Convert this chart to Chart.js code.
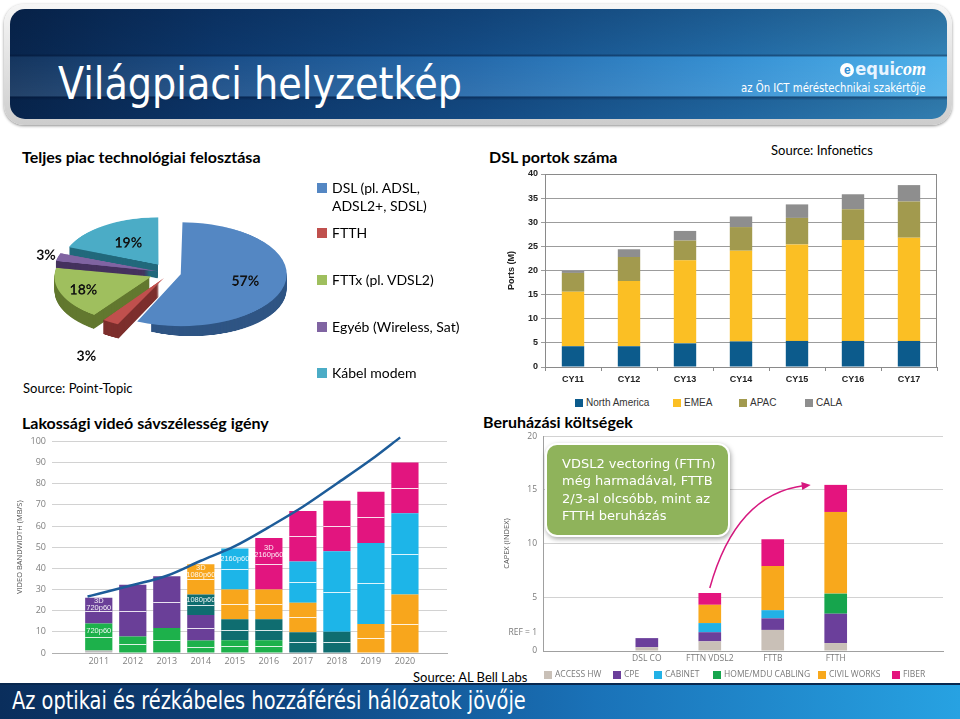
<!DOCTYPE html>
<html lang="hu">
<head>
<meta charset="utf-8">
<title>Világpiaci helyzetkép</title>
<script src="https://cdn.jsdelivr.net/npm/chart.js@4.4.1/dist/chart.umd.min.js"></script>
<style>
  html, body { margin: 0; padding: 0; background: #fff; }
  body { position: relative; width: 960px; height: 719px; overflow: hidden; font-family: Lato, 'Open Sans', sans-serif; color: #000; }
  .abs { position: absolute; white-space: nowrap; }
  canvas { position: absolute; }
  .narrow { font-family: 'Liberation Sans Narrow', 'DejaVu Sans Condensed', sans-serif; transform-origin: 0 50%; }
  #frame { left: 4px; top: 4px; width: 948px; height: 121px; border-radius: 20px; background: linear-gradient(#f6f6f6, #cdcdcd); box-shadow: 0 1px 3px rgba(0,0,0,.45); }
  #banner { left: 10px; top: 9px; width: 937px; height: 110px; border-radius: 15px; overflow: hidden;
    background:
      linear-gradient(180deg, rgba(0,15,45,.40) 0%, rgba(0,15,45,.28) 41%, rgba(0,15,45,.6) 42%, rgba(255,255,255,.04) 44%, rgba(255,255,255,.10) 79%, rgba(0,15,45,.6) 80%, rgba(0,15,45,.35) 83%, rgba(0,15,45,.3) 100%),
      linear-gradient(90deg, #0b2d58 0%, #114682 22%, #1c64a8 50%, #2f8dd2 78%, #47aee9 100%); }
  #title { left: 58px; top: 59px; font-size: 44px; line-height: 50px; color: #fff; transform: scaleX(0.965); }
  #logo { right: 34px; top: 58px; font-size: 18px; line-height: 22px; color: #fff; font-weight: bold; font-style: italic; font-family: 'Liberation Serif', serif; }
  #logo .e { display: inline-block; width: 14px; height: 14px; border-radius: 7px; background: #fff; color: #2f8dd2; font-size: 12px; line-height: 14px; text-align: center; font-style: normal; font-family: 'Liberation Sans', sans-serif; margin-right: 1px; vertical-align: 1px; }
  #logo .q { font-family: 'Liberation Sans Narrow', 'DejaVu Sans Condensed', sans-serif; font-style: normal; color: #e8f4ff; }
  #tagline { left: 741px; top: 80px; font-size: 12.5px; line-height: 16px; color: #fff; transform: scaleX(0.9); }
  .head { font-weight: bold; font-size: 16px; line-height: 20px; }
  .src { font-size: 13px; line-height: 16px; }
  .plg { position: absolute; font-size: 14px; line-height: 18px; white-space: pre; padding-left: 15px; }
  .plg i { position: absolute; left: 0; top: 4px; width: 10px; height: 10px; }
  .lg { position: absolute; white-space: nowrap; }
  .lg i { display: inline-block; vertical-align: middle; margin-right: 3px; }
  #callout { left: 547px; top: 445px; width: 166px; height: 80px; padding: 10px 0 0 15px; border-radius: 10px; background: #8fb35b; color: #fff;
    box-shadow: 0 0 0 2px #fff, 1px 2px 5px 2px rgba(0,0,0,.35); font-family: 'DejaVu Sans', sans-serif; font-size: 13px; line-height: 17.3px; }
  #footer { left: 0; top: 683px; width: 960px; height: 36px; border-top: 2px solid #08284f;
    background: linear-gradient(90deg, #0a2e5c 0%, #0f4580 30%, #1a72b8 62%, #27a2e2 100%); }
  #footerText { left: 12px; top: 684px; font-size: 25px; line-height: 34px; color: #fff; transform: scaleX(0.862); }
</style>
</head>
<body>
<div id="frame" class="abs"></div>
<div id="banner" class="abs"></div>
<div id="title" class="abs narrow">Világpiaci helyzetkép</div>
<div id="logo" class="abs"><span class="e">e</span><span class="q">equi</span>com</div>
<div id="tagline" class="abs narrow">az Ön ICT méréstechnikai szakértője</div>

<div class="abs head" style="left:22px;top:147px">Teljes piac technológiai felosztása</div>
<div class="abs head" style="left:489px;top:147px">DSL portok száma</div>
<div class="abs src" style="left:771px;top:142px">Source: Infonetics</div>
<div class="abs src" style="left:23px;top:380px">Source: Point-Topic</div>
<div class="abs head" style="left:22px;top:413px">Lakossági videó sávszélesség igény</div>
<div class="abs head" style="left:483px;top:412px">Beruházási költségek</div>
<div class="abs src" style="left:413px;top:669px">Source: AL Bell Labs</div>

<canvas id="pieChart"></canvas>
<canvas id="dslChart"></canvas>
<canvas id="videoChart"></canvas>
<canvas id="capexChart"></canvas>
<div id="pieLegend"></div>
<div id="dslLegend"></div>
<div id="capexLegend"></div>

<div id="callout" class="abs">VDSL2 vectoring (FTTn)<br>még harmadával, FTTB<br>2/3-al olcsóbb, mint az<br>FTTH beruházás</div>

<div id="footer" class="abs"></div>
<div id="footerText" class="abs narrow">Az optikai és rézkábeles hozzáférési hálózatok jövője</div>

<script>
// ---- adatok ----
const pieLabels = ['DSL (pl. ADSL,\nADSL2+, SDSL)', 'FTTH', 'FTTx (pl. VDSL2)', 'Egyéb (Wireless, Sat)', 'Kábel modem'];
const pieShares = [57, 3, 18, 3, 19];

const dslYears = ['CY11', 'CY12', 'CY13', 'CY14', 'CY15', 'CY16', 'CY17'];
const dslNorthAmerica = [4.3, 4.3, 4.9, 5.3, 5.4, 5.4, 5.4];
const dslEmea = [11.3, 13.5, 17.2, 18.8, 20.0, 20.9, 21.4];
const dslApac = [3.9, 5.0, 4.1, 4.9, 5.5, 6.4, 7.5];
const dslCala = [0.4, 1.6, 2.0, 2.2, 2.8, 3.1, 3.4];

const videoYears = ['2011', '2012', '2013', '2014', '2015', '2016', '2017', '2018', '2019', '2020'];
const videoSd = [1.2, 0, 0, 0, 0, 0, 0, 0, 0, 0];
const video720 = [12.8, 7.8, 11.8, 5.9, 6, 6, 0, 0, 0, 0];
const video3d720 = [12.1, 24.5, 24.5, 12, 0, 0, 0, 0, 0, 0];
const video1080 = [0, 0, 0, 9.7, 10, 10, 9.8, 10, 0, 0];
const video3d1080 = [0, 0, 0, 14.3, 14, 14, 14, 0, 13.7, 27.6];
const video2160 = [0, 0, 0, 0, 19.4, 0, 19.4, 38.1, 38.3, 38.4];
const video3d2160 = [0, 0, 0, 0, 0, 24.3, 23.9, 23.9, 24.2, 24];
// trend curve (x = year index)
const curveX = [-0.33, 0, 1, 2, 3, 4, 5, 6, 7, 8, 8.86];
const curveY = [26.7, 28.0, 32.1, 36.5, 43.6, 50.5, 59.5, 69.1, 80.1, 91.3, 101.9];

const capexCats = ['DSL CO', 'FTTN VDSL2', 'FTTB', 'FTTH'];
const capexAccessHw = [0.35, 0.9, 1.96, 0.74];
const capexCpe = [0.85, 0.85, 1.08, 2.73];
const capexCabinet = [0, 0.85, 0.76, 0];
const capexHomeCabling = [0, 0, 0, 1.87];
const capexCivilWorks = [0, 1.7, 4.1, 7.6];
const capexFiber = [0, 1.1, 2.5, 2.52];
const capexRefTick = 1.7;

// ---- stílus ----
const pieColors = ['#5487c3', '#c0504d', '#9fbf5e', '#8064a2', '#4bacc6'];
const pieSideColors = ['#2f5584', '#7d2f2d', '#62782f', '#45325e', '#22697c'];
const pieRatio = 0.49;

Chart.defaults.animation = false;
Chart.defaults.font.family = 'Open Sans';
Chart.defaults.plugins.legend.display = false;
Chart.defaults.plugins.tooltip.enabled = false;

// canvas + plot area -> padding / axis sizes
function setBox(id, box) {
  const c = document.getElementById(id);
  c.width = box.w; c.height = box.h;
  c.style.left = box.x + 'px'; c.style.top = box.y + 'px';
  return c;
}
function layoutFor(box, plot) {
  return {
    padding: { left: 0, bottom: 0, top: plot.top - box.y, right: box.x + box.w - plot.right },
    yWidth: plot.left - box.x,
    xHeight: box.y + box.h - plot.bottom
  };
}

// ---- torta ----
function arcShift(arc) {
  const circ = arc.endAngle - arc.startAngle;
  const base = (arc.options.offset || 0) / 4;
  return base + base * (1 - Math.sin(Math.min(Math.PI, circ)));
}

const pieDepthPlugin = {
  id: 'pieDepth',
  beforeDatasetsDraw(chart, args, opts) {
    const ctx = chart.ctx;
    const arcs = chart.getDatasetMeta(0).data;
    const steps = Math.round(opts.depth / pieRatio);
    for (let k = steps; k > 0; k--) {
      arcs.forEach((arc, i) => {
        const half = (arc.startAngle + arc.endAngle) / 2;
        const s = arcShift(arc);
        const cx = arc.x + Math.cos(half) * s;
        const cy = arc.y + Math.sin(half) * s + k;
        ctx.beginPath();
        ctx.moveTo(cx, cy);
        ctx.arc(cx, cy, arc.outerRadius, arc.startAngle, arc.endAngle);
        ctx.closePath();
        ctx.fillStyle = opts.colors[i];
        ctx.fill();
      });
    }
  },
  afterDatasetsDraw(chart, args, opts) {
    const ctx = chart.ctx;
    chart.getDatasetMeta(0).data.forEach((arc, i) => {
      const half = (arc.startAngle + arc.endAngle) / 2;
      const r = arcShift(arc) + arc.outerRadius * opts.labelRadius[i];
      const x = arc.x + Math.cos(half) * r;
      const y = arc.y + Math.sin(half) * r + (opts.labelDrop[i] ? opts.depth / pieRatio : 0);
      ctx.save();
      ctx.translate(x, y);
      ctx.scale(1, 1 / pieRatio);
      ctx.font = 'bold 14px Lato';
      ctx.fillStyle = '#111';
      ctx.textAlign = 'center';
      ctx.textBaseline = 'middle';
      ctx.fillText(pieShares[i] + '%', 0, 0);
      ctx.restore();
    });
  }
};

// pie centre on the page: (170, 273)
const pieCanvas = setBox('pieChart', { x: 20, y: 123, w: 300, h: 345 });
pieCanvas.style.transformOrigin = '150px 150px';
pieCanvas.style.transform = 'scaleY(' + pieRatio + ')';
new Chart(pieCanvas, {
  type: 'pie',
  data: {
    labels: pieLabels,
    datasets: [{ data: pieShares, backgroundColor: pieColors, borderWidth: 0, offset: [44, 48, 80, 48, 82] }]
  },
  options: {
    responsive: false,
    radius: 95,
    layout: { padding: { bottom: 45 } },
    plugins: { pieDepth: { depth: 14, colors: pieSideColors, labelRadius: [0.58, 1.5, 0.75, 1.13, 0.55], labelDrop: [0, 1, 0, 0, 0] } }
  },
  plugins: [pieDepthPlugin]
});

const pieLegendTop = [179, 224, 271, 318, 364];
document.getElementById('pieLegend').innerHTML = pieLabels.map((l, i) =>
  `<div class="plg" style="left:317px;top:${pieLegendTop[i]}px"><i style="background:${pieColors[i]}"></i>${l}</div>`).join('');

// ---- DSL portok ----
const dslBox = { x: 480, y: 165, w: 470, h: 225 };
const dslL = layoutFor(dslBox, { left: 545, top: 174, right: 937, bottom: 367 });
const frameBorder = {
  id: 'frameBorder',
  afterDatasetsDraw(chart) {
    const { ctx, chartArea: a } = chart;
    ctx.save();
    ctx.strokeStyle = '#8a8a8a';
    ctx.lineWidth = 1;
    ctx.strokeRect(Math.round(a.left) + 0.5, Math.round(a.top) + 0.5, Math.round(a.width) - 1, Math.round(a.height));
    ctx.restore();
  }
};
const dslFont = { family: 'Liberation Sans', weight: 'bold', size: 9 };
const dslChart = new Chart(setBox('dslChart', dslBox), {
  type: 'bar',
  data: {
    labels: dslYears,
    datasets: [
      { label: 'North America', data: dslNorthAmerica, backgroundColor: '#0c5b8c' },
      { label: 'EMEA', data: dslEmea, backgroundColor: '#fbbf24' },
      { label: 'APAC', data: dslApac, backgroundColor: '#a29a4e' },
      { label: 'CALA', data: dslCala, backgroundColor: '#8e8e8e' }
    ]
  },
  options: {
    responsive: false,
    layout: { padding: dslL.padding },
    datasets: { bar: { barPercentage: 0.4, categoryPercentage: 1 } },
    scales: {
      x: {
        stacked: true,
        grid: { drawOnChartArea: false, offset: true, tickLength: 4, color: '#8a8a8a' },
        border: { color: '#8a8a8a' },
        ticks: { font: dslFont, color: '#222', padding: 3 },
        afterFit: s => { s.height = dslL.xHeight; }
      },
      y: {
        stacked: true, min: 0, max: 40,
        grid: { color: '#9c9c9c', tickLength: 4 },
        border: { color: '#8a8a8a' },
        ticks: { stepSize: 5, font: dslFont, color: '#222', padding: 3 },
        title: { display: true, text: 'Ports (M)', font: dslFont, color: '#222', padding: { top: 26, bottom: 0 } },
        afterFit: s => { s.width = dslL.yWidth; }
      }
    }
  },
  plugins: [frameBorder]
});
const dslLegendX = [575, 673, 739, 805];
document.getElementById('dslLegend').innerHTML = dslChart.data.datasets.map((d, i) =>
  `<div class="lg" style="left:${dslLegendX[i]}px;top:396px;font:10px 'Liberation Sans';line-height:14px;color:#333"><i style="width:8px;height:8px;background:${d.backgroundColor}"></i>${d.label}</div>`).join('');

// ---- videó sávszélesség ----
const videoBox = { x: 0, y: 430, w: 460, h: 240 };
const videoL = layoutFor(videoBox, { left: 52, top: 438, right: 447, bottom: 653 });
const pts = arr => arr.map((v, i) => ({ x: i, y: v }));
const videoTags = { '720p60': 0, '3D 720p60': 0, '1080p60': 3, '3D 1080p60': 3, '2160p60': 4, '3D 2160p60': 5 };
const barMarks = {
  id: 'barMarks',
  afterDatasetDraw(chart, args) {
    const meta = args.meta;
    if (meta.type !== 'bar') return;
    const ctx = chart.ctx;
    const ds = chart.data.datasets[args.index];
    ctx.save();
    meta.data.forEach((bar, i) => {
      const h = bar.base - bar.y;
      if (h < 2) return;
      const mid = Math.round((bar.y + bar.base) / 2) + 0.5;
      if (ds.label !== 'SD') {
        ctx.strokeStyle = 'rgba(255,255,255,0.85)';
        ctx.lineWidth = 1;
        ctx.beginPath();
        ctx.moveTo(bar.x - bar.width / 2, mid);
        ctx.lineTo(bar.x + bar.width / 2, mid);
        ctx.stroke();
      }
      if (videoTags[ds.label] === i) {
        const lines = ds.label.startsWith('3D') ? ['3D', ds.label.slice(3)] : [ds.label];
        const cy = (bar.y + mid) / 2;
        ctx.fillStyle = 'rgba(255,255,255,0.92)';
        ctx.font = '7.5px "Liberation Sans"';
        ctx.textAlign = 'center';
        ctx.textBaseline = 'middle';
        lines.forEach((t, k) => ctx.fillText(t, bar.x, cy + (k - (lines.length - 1) / 2) * 7));
      }
    });
    ctx.restore();
  }
};
const grayTick = { size: 9, family: 'Open Sans' };
new Chart(setBox('videoChart', videoBox), {
  type: 'bar',
  data: {
    datasets: [
      { label: 'SD', data: pts(videoSd), backgroundColor: '#bdbdbd' },
      { label: '720p60', data: pts(video720), backgroundColor: '#1db14b' },
      { label: '3D 720p60', data: pts(video3d720), backgroundColor: '#6a3f98' },
      { label: '1080p60', data: pts(video1080), backgroundColor: '#0f6d70' },
      { label: '3D 1080p60', data: pts(video3d1080), backgroundColor: '#f8a61c' },
      { label: '2160p60', data: pts(video2160), backgroundColor: '#1db5e8' },
      { label: '3D 2160p60', data: pts(video3d2160), backgroundColor: '#e2157f' },
      { type: 'line', label: 'trend', stack: 'curve', order: -1, clip: false,
        data: curveX.map((x, i) => ({ x: x, y: curveY[i] })),
        borderColor: '#1d5c99', borderWidth: 2.5, pointRadius: 0, cubicInterpolationMode: 'monotone' }
    ]
  },
  options: {
    responsive: false,
    layout: { padding: videoL.padding },
    datasets: { bar: { barPercentage: 0.8, categoryPercentage: 1 } },
    scales: {
      x: {
        type: 'linear', stacked: true, min: -0.794, max: 9.656,
        afterBuildTicks: s => { s.ticks = videoYears.map((y, i) => ({ value: i })); },
        ticks: { callback: v => videoYears[v], font: grayTick, color: '#808080', padding: 3 },
        grid: { display: false, drawTicks: false },
        border: { color: '#b0b0b0' },
        afterFit: s => { s.height = videoL.xHeight; }
      },
      y: {
        stacked: true, min: 0, max: 100,
        ticks: { stepSize: 10, font: grayTick, color: '#808080', padding: 6 },
        grid: { color: '#d2d2d2', drawTicks: false },
        border: { display: false },
        title: { display: true, text: 'VIDEO BANDWIDTH (MB/S)', font: { size: 7.5, family: 'Open Sans' }, color: '#555', padding: { top: 15, bottom: 0 } },
        afterFit: s => { s.width = videoL.yWidth; }
      }
    }
  },
  plugins: [barMarks]
});

// ---- beruházási költségek ----
const capexBox = { x: 480, y: 425, w: 470, h: 245 };
const capexL = layoutFor(capexBox, { left: 543, top: 434, right: 943, bottom: 651 });
const arrowPlugin = {
  id: 'arrow',
  afterDraw(chart) {
    const { ctx, scales: { x, y } } = chart;
    const sx = x.getPixelForValue(1), sy = y.getPixelForValue(5.4) - 5;
    const ex = x.getPixelForValue(3) - 25, ey = y.getPixelForValue(15.46);
    const cx = sx + 26, cy = ey + 9;
    ctx.save();
    ctx.strokeStyle = '#d6187f';
    ctx.fillStyle = '#d6187f';
    ctx.lineWidth = 1.5;
    ctx.beginPath();
    ctx.moveTo(sx, sy);
    ctx.quadraticCurveTo(cx, cy, ex - 6, ey + 0.5);
    ctx.stroke();
    const ang = Math.atan2(ey - cy, ex - cx);
    ctx.translate(ex, ey);
    ctx.rotate(ang);
    ctx.beginPath();
    ctx.moveTo(0, 0);
    ctx.lineTo(-9, -4);
    ctx.lineTo(-9, 4);
    ctx.closePath();
    ctx.fill();
    ctx.restore();
  }
};
const capexChart = new Chart(setBox('capexChart', capexBox), {
  type: 'bar',
  data: {
    datasets: [
      { label: 'ACCESS HW', data: pts(capexAccessHw), backgroundColor: '#c9c0b7' },
      { label: 'CPE', data: pts(capexCpe), backgroundColor: '#6b3f9b' },
      { label: 'CABINET', data: pts(capexCabinet), backgroundColor: '#22b1e6' },
      { label: 'HOME/MDU CABLING', data: pts(capexHomeCabling), backgroundColor: '#16a54d' },
      { label: 'CIVIL WORKS', data: pts(capexCivilWorks), backgroundColor: '#f8a81c' },
      { label: 'FIBER', data: pts(capexFiber), backgroundColor: '#e4147e' }
    ]
  },
  options: {
    responsive: false,
    layout: { padding: capexL.padding },
    datasets: { bar: { barPercentage: 0.36, categoryPercentage: 1 } },
    scales: {
      x: {
        type: 'linear', stacked: true, min: -0.855, max: 3.91,
        afterBuildTicks: s => { s.ticks = capexCats.map((c, i) => ({ value: i })); },
        ticks: { callback: v => capexCats[v], font: { size: 8.5, family: 'Open Sans' }, color: '#7a7a7a', padding: 2 },
        grid: { display: false, drawTicks: false },
        border: { color: '#a0a0a0' },
        afterFit: s => { s.height = capexL.xHeight; }
      },
      y: {
        stacked: true, min: 0, max: 20,
        afterBuildTicks: s => { s.ticks = [0, capexRefTick, 5, 10, 15, 20].map(v => ({ value: v })); },
        ticks: { callback: v => v === capexRefTick ? 'REF = 1' : v, font: { size: 8.5, family: 'Open Sans' }, color: '#7a7a7a', padding: 6 },
        grid: { color: c => (c.tick && (c.tick.value === 0 || c.tick.value === capexRefTick)) ? 'rgba(0,0,0,0)' : '#d2d2d2', drawTicks: false },
        border: { color: '#a0a0a0' },
        title: { display: true, text: 'CAPEX (INDEX)', font: { size: 7.5, family: 'Open Sans' }, color: '#555', padding: { top: 22, bottom: 0 } },
        afterFit: s => { s.width = capexL.yWidth; }
      }
    }
  },
  plugins: [arrowPlugin]
});
const capexLegendX = [544, 613, 654, 713, 818, 892];
document.getElementById('capexLegend').innerHTML = capexChart.data.datasets.map((d, i) =>
  `<div class="lg" style="left:${capexLegendX[i]}px;top:667px;font:8.5px 'Open Sans';line-height:14px;color:#7a7a7a"><i style="width:8px;height:8px;background:${d.backgroundColor}"></i>${d.label}</div>`).join('');
</script>
</body>
</html>
